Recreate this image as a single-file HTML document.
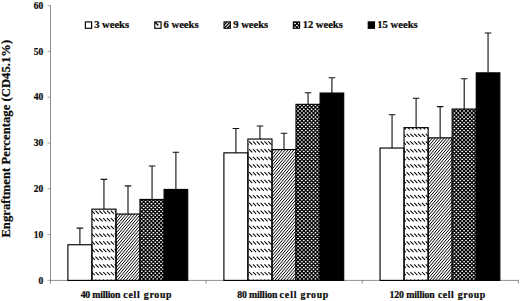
<!DOCTYPE html>
<html><head><meta charset="utf-8"><title>chart</title>
<style>
html,body{margin:0;padding:0;background:#fff;}
body{width:520px;height:301px;overflow:hidden;}
svg{display:block;}
text{font-family:"Liberation Serif",serif;font-weight:bold;fill:#0a0a0a;stroke:#0a0a0a;stroke-width:0.22px;}
</style></head><body>
<svg width="520" height="301" viewBox="0 0 520 301">
<rect width="520" height="301" fill="#fff"/>

<g stroke="#6a6a6a" stroke-width="0.75" fill="none">
<path d="M50.5,5.6 V280.4 H518.8"/>
<path d="M47.6,280.40 H50.5" stroke="#888"/>
<path d="M47.6,234.60 H50.5" stroke="#888"/>
<path d="M47.6,188.80 H50.5" stroke="#888"/>
<path d="M47.6,143.00 H50.5" stroke="#888"/>
<path d="M47.6,97.20 H50.5" stroke="#888"/>
<path d="M47.6,51.40 H50.5" stroke="#888"/>
<path d="M47.6,5.60 H50.5" stroke="#888"/>
<path d="M50.5,280.4 V283.6"/>
<path d="M206.1,280.4 V283.6"/>
<path d="M362.2,280.4 V283.6"/>
<path d="M518.4,280.4 V283.6"/>
</g>
<text x="43.2" y="283.65" font-size="9.5" text-anchor="end">0</text>
<text x="43.2" y="237.85" font-size="9.5" text-anchor="end">10</text>
<text x="43.2" y="192.05" font-size="9.5" text-anchor="end">20</text>
<text x="43.2" y="146.25" font-size="9.5" text-anchor="end">30</text>
<text x="43.2" y="100.45" font-size="9.5" text-anchor="end">40</text>
<text x="43.2" y="54.65" font-size="9.5" text-anchor="end">50</text>
<text x="43.2" y="8.85" font-size="9.5" text-anchor="end">60</text>
<defs><clipPath id="c1"><rect x="91.90" y="209.15" width="24.1" height="71.25"/></clipPath><clipPath id="c2"><rect x="116.00" y="214.05" width="23.999999999999993" height="66.35"/></clipPath><clipPath id="c3"><rect x="140.00" y="199.45" width="24.10000000000001" height="80.95"/></clipPath><clipPath id="c4"><rect x="247.90" y="139.05" width="24.1" height="141.35"/></clipPath><clipPath id="c5"><rect x="272.00" y="149.55" width="23.999999999999993" height="130.85"/></clipPath><clipPath id="c6"><rect x="296.00" y="104.35" width="24.10000000000001" height="176.05"/></clipPath><clipPath id="c7"><rect x="404.05" y="127.65" width="24.1" height="152.75"/></clipPath><clipPath id="c8"><rect x="428.15" y="137.85" width="23.999999999999993" height="142.55"/></clipPath><clipPath id="c9"><rect x="452.15" y="109.05" width="24.10000000000001" height="171.35"/></clipPath><clipPath id="c10"><rect x="154.80" y="21.9" width="6.25" height="6.4"/></clipPath><clipPath id="c11"><rect x="224.05" y="21.9" width="6.25" height="6.4"/></clipPath><clipPath id="c12"><rect x="293.35" y="21.9" width="6.25" height="6.4"/></clipPath></defs>
<path d="M79.90,244.75 V228.1 M76.60,228.1 H83.20" stroke="#111" stroke-width="1.1" fill="none"/>
<rect x="67.90" y="244.75" width="24.0" height="35.65" fill="#fff" stroke="#000" stroke-width="1.15"/>
<path d="M103.95,209.15 V179.4 M100.65,179.4 H107.25" stroke="#111" stroke-width="1.1" fill="none"/>
<g clip-path="url(#c1)"><path d="M10.98,202.88l78.5,78.5M14.82,202.88l78.5,78.5M18.66,202.88l78.5,78.5M22.50,202.88l78.5,78.5M26.34,202.88l78.5,78.5M30.18,202.88l78.5,78.5M34.02,202.88l78.5,78.5M37.86,202.88l78.5,78.5M41.70,202.88l78.5,78.5M45.54,202.88l78.5,78.5M49.38,202.88l78.5,78.5M53.22,202.88l78.5,78.5M57.06,202.88l78.5,78.5M60.90,202.88l78.5,78.5M64.74,202.88l78.5,78.5M68.58,202.88l78.5,78.5M72.42,202.88l78.5,78.5M76.26,202.88l78.5,78.5M80.10,202.88l78.5,78.5M83.94,202.88l78.5,78.5M87.78,202.88l78.5,78.5M91.62,202.88l78.5,78.5M95.46,202.88l78.5,78.5M99.30,202.88l78.5,78.5M103.14,202.88l78.5,78.5M106.98,202.88l78.5,78.5M110.82,202.88l78.5,78.5M114.66,202.88l78.5,78.5M118.50,202.88l78.5,78.5" stroke="#000" stroke-width="1.05" stroke-dasharray="4.562 6.299" fill="none"/></g>
<rect x="91.90" y="209.15" width="24.1" height="71.25" fill="none" stroke="#000" stroke-width="1.15"/>
<path d="M128.00,214.05 V185.9 M124.70,185.9 H131.30" stroke="#111" stroke-width="1.1" fill="none"/>
<g clip-path="url(#c2)"><path d="M55.00,281.40L112.43,213.05M57.92,281.40L115.35,213.05M60.84,281.40L118.27,213.05M63.76,281.40L121.19,213.05M66.68,281.40L124.11,213.05M69.60,281.40L127.03,213.05M72.52,281.40L129.95,213.05M75.44,281.40L132.87,213.05M78.36,281.40L135.79,213.05M81.28,281.40L138.71,213.05M84.20,281.40L141.63,213.05M87.12,281.40L144.55,213.05M90.04,281.40L147.47,213.05M92.96,281.40L150.39,213.05M95.88,281.40L153.31,213.05M98.80,281.40L156.23,213.05M101.72,281.40L159.15,213.05M104.64,281.40L162.07,213.05M107.56,281.40L164.99,213.05M110.48,281.40L167.91,213.05M113.40,281.40L170.83,213.05M116.32,281.40L173.75,213.05M119.24,281.40L176.67,213.05M122.16,281.40L179.59,213.05M125.08,281.40L182.51,213.05M128.00,281.40L185.43,213.05M130.92,281.40L188.35,213.05M133.84,281.40L191.27,213.05M136.76,281.40L194.19,213.05M139.68,281.40L197.11,213.05M142.60,281.40L200.03,213.05" stroke="#000" stroke-width="1.0" fill="none"/></g>
<rect x="116.00" y="214.05" width="23.999999999999993" height="66.35" fill="none" stroke="#000" stroke-width="1.15"/>
<path d="M152.05,199.45 V166.0 M148.75,166.0 H155.35" stroke="#111" stroke-width="1.1" fill="none"/>
<g clip-path="url(#c3)"><rect x="140.00" y="199.45" width="24.10" height="80.95" fill="#000"/><path d="M133.82,194.08h35.7M133.82,197.94h35.7M133.82,201.80h35.7M133.82,205.66h35.7M133.82,209.52h35.7M133.82,213.38h35.7M133.82,217.24h35.7M133.82,221.10h35.7M133.82,224.96h35.7M133.82,228.82h35.7M133.82,232.68h35.7M133.82,236.54h35.7M133.82,240.40h35.7M133.82,244.26h35.7M133.82,248.12h35.7M133.82,251.98h35.7M133.82,255.84h35.7M133.82,259.70h35.7M133.82,263.56h35.7M133.82,267.42h35.7M133.82,271.28h35.7M133.82,275.14h35.7M133.82,279.00h35.7M133.82,282.86h35.7M133.82,286.72h35.7M135.75,196.01h35.7M135.75,199.87h35.7M135.75,203.73h35.7M135.75,207.59h35.7M135.75,211.45h35.7M135.75,215.31h35.7M135.75,219.17h35.7M135.75,223.03h35.7M135.75,226.89h35.7M135.75,230.75h35.7M135.75,234.61h35.7M135.75,238.47h35.7M135.75,242.33h35.7M135.75,246.19h35.7M135.75,250.05h35.7M135.75,253.91h35.7M135.75,257.77h35.7M135.75,261.63h35.7M135.75,265.49h35.7M135.75,269.35h35.7M135.75,273.21h35.7M135.75,277.07h35.7M135.75,280.93h35.7M135.75,284.79h35.7M135.75,288.65h35.7" stroke="#fff" stroke-width="1.5" stroke-linecap="round" stroke-dasharray="0.400 3.460" fill="none"/></g>
<rect x="140.00" y="199.45" width="24.10000000000001" height="80.95" fill="none" stroke="#000" stroke-width="1.15"/>
<path d="M175.90,189.45 V152.2 M172.60,152.2 H179.20" stroke="#111" stroke-width="1.1" fill="none"/>
<rect x="164.10" y="189.45" width="23.599999999999994" height="90.95" fill="#000" stroke="#000" stroke-width="1.15"/>
<path d="M235.90,152.85 V128.5 M232.60,128.5 H239.20" stroke="#111" stroke-width="1.1" fill="none"/>
<rect x="223.90" y="152.85" width="24.0" height="127.55" fill="#fff" stroke="#000" stroke-width="1.15"/>
<path d="M259.95,139.05 V126.0 M256.65,126.0 H263.25" stroke="#111" stroke-width="1.1" fill="none"/>
<g clip-path="url(#c4)"><path d="M99.30,133.76l147.6,147.6M103.14,133.76l147.6,147.6M106.98,133.76l147.6,147.6M110.82,133.76l147.6,147.6M114.66,133.76l147.6,147.6M118.50,133.76l147.6,147.6M122.34,133.76l147.6,147.6M126.18,133.76l147.6,147.6M130.02,133.76l147.6,147.6M133.86,133.76l147.6,147.6M137.70,133.76l147.6,147.6M141.54,133.76l147.6,147.6M145.38,133.76l147.6,147.6M149.22,133.76l147.6,147.6M153.06,133.76l147.6,147.6M156.90,133.76l147.6,147.6M160.74,133.76l147.6,147.6M164.58,133.76l147.6,147.6M168.42,133.76l147.6,147.6M172.26,133.76l147.6,147.6M176.10,133.76l147.6,147.6M179.94,133.76l147.6,147.6M183.78,133.76l147.6,147.6M187.62,133.76l147.6,147.6M191.46,133.76l147.6,147.6M195.30,133.76l147.6,147.6M199.14,133.76l147.6,147.6M202.98,133.76l147.6,147.6M206.82,133.76l147.6,147.6M210.66,133.76l147.6,147.6M214.50,133.76l147.6,147.6M218.34,133.76l147.6,147.6M222.18,133.76l147.6,147.6M226.02,133.76l147.6,147.6M229.86,133.76l147.6,147.6M233.70,133.76l147.6,147.6M237.54,133.76l147.6,147.6M241.38,133.76l147.6,147.6M245.22,133.76l147.6,147.6M249.06,133.76l147.6,147.6M252.90,133.76l147.6,147.6M256.74,133.76l147.6,147.6M260.58,133.76l147.6,147.6M264.42,133.76l147.6,147.6M268.26,133.76l147.6,147.6M272.10,133.76l147.6,147.6" stroke="#000" stroke-width="1.05" stroke-dasharray="4.562 6.299" fill="none"/></g>
<rect x="247.90" y="139.05" width="24.1" height="141.35" fill="none" stroke="#000" stroke-width="1.15"/>
<path d="M284.00,149.55 V133.3 M280.70,133.3 H287.30" stroke="#111" stroke-width="1.1" fill="none"/>
<g clip-path="url(#c5)"><path d="M157.20,281.40L268.84,148.55M160.12,281.40L271.76,148.55M163.04,281.40L274.68,148.55M165.96,281.40L277.60,148.55M168.88,281.40L280.52,148.55M171.80,281.40L283.44,148.55M174.72,281.40L286.36,148.55M177.64,281.40L289.28,148.55M180.56,281.40L292.20,148.55M183.48,281.40L295.12,148.55M186.40,281.40L298.04,148.55M189.32,281.40L300.96,148.55M192.24,281.40L303.88,148.55M195.16,281.40L306.80,148.55M198.08,281.40L309.72,148.55M201.00,281.40L312.64,148.55M203.92,281.40L315.56,148.55M206.84,281.40L318.48,148.55M209.76,281.40L321.40,148.55M212.68,281.40L324.32,148.55M215.60,281.40L327.24,148.55M218.52,281.40L330.16,148.55M221.44,281.40L333.08,148.55M224.36,281.40L336.00,148.55M227.28,281.40L338.92,148.55M230.20,281.40L341.84,148.55M233.12,281.40L344.76,148.55M236.04,281.40L347.68,148.55M238.96,281.40L350.60,148.55M241.88,281.40L353.52,148.55M244.80,281.40L356.44,148.55M247.72,281.40L359.36,148.55M250.64,281.40L362.28,148.55M253.56,281.40L365.20,148.55M256.48,281.40L368.12,148.55M259.40,281.40L371.04,148.55M262.32,281.40L373.96,148.55M265.24,281.40L376.88,148.55M268.16,281.40L379.80,148.55M271.08,281.40L382.72,148.55M274.00,281.40L385.64,148.55M276.92,281.40L388.56,148.55M279.84,281.40L391.48,148.55M282.76,281.40L394.40,148.55M285.68,281.40L397.32,148.55M288.60,281.40L400.24,148.55M291.52,281.40L403.16,148.55M294.44,281.40L406.08,148.55M297.36,281.40L409.00,148.55M300.28,281.40L411.92,148.55" stroke="#000" stroke-width="1.0" fill="none"/></g>
<rect x="272.00" y="149.55" width="23.999999999999993" height="130.85" fill="none" stroke="#000" stroke-width="1.15"/>
<path d="M308.05,104.35 V92.8 M304.75,92.8 H311.35" stroke="#111" stroke-width="1.1" fill="none"/>
<g clip-path="url(#c6)"><rect x="296.00" y="104.35" width="24.10" height="176.05" fill="#000"/><path d="M288.22,97.58h35.7M288.22,101.44h35.7M288.22,105.30h35.7M288.22,109.16h35.7M288.22,113.02h35.7M288.22,116.88h35.7M288.22,120.74h35.7M288.22,124.60h35.7M288.22,128.46h35.7M288.22,132.32h35.7M288.22,136.18h35.7M288.22,140.04h35.7M288.22,143.90h35.7M288.22,147.76h35.7M288.22,151.62h35.7M288.22,155.48h35.7M288.22,159.34h35.7M288.22,163.20h35.7M288.22,167.06h35.7M288.22,170.92h35.7M288.22,174.78h35.7M288.22,178.64h35.7M288.22,182.50h35.7M288.22,186.36h35.7M288.22,190.22h35.7M288.22,194.08h35.7M288.22,197.94h35.7M288.22,201.80h35.7M288.22,205.66h35.7M288.22,209.52h35.7M288.22,213.38h35.7M288.22,217.24h35.7M288.22,221.10h35.7M288.22,224.96h35.7M288.22,228.82h35.7M288.22,232.68h35.7M288.22,236.54h35.7M288.22,240.40h35.7M288.22,244.26h35.7M288.22,248.12h35.7M288.22,251.98h35.7M288.22,255.84h35.7M288.22,259.70h35.7M288.22,263.56h35.7M288.22,267.42h35.7M288.22,271.28h35.7M288.22,275.14h35.7M288.22,279.00h35.7M288.22,282.86h35.7M288.22,286.72h35.7M290.15,99.51h35.7M290.15,103.37h35.7M290.15,107.23h35.7M290.15,111.09h35.7M290.15,114.95h35.7M290.15,118.81h35.7M290.15,122.67h35.7M290.15,126.53h35.7M290.15,130.39h35.7M290.15,134.25h35.7M290.15,138.11h35.7M290.15,141.97h35.7M290.15,145.83h35.7M290.15,149.69h35.7M290.15,153.55h35.7M290.15,157.41h35.7M290.15,161.27h35.7M290.15,165.13h35.7M290.15,168.99h35.7M290.15,172.85h35.7M290.15,176.71h35.7M290.15,180.57h35.7M290.15,184.43h35.7M290.15,188.29h35.7M290.15,192.15h35.7M290.15,196.01h35.7M290.15,199.87h35.7M290.15,203.73h35.7M290.15,207.59h35.7M290.15,211.45h35.7M290.15,215.31h35.7M290.15,219.17h35.7M290.15,223.03h35.7M290.15,226.89h35.7M290.15,230.75h35.7M290.15,234.61h35.7M290.15,238.47h35.7M290.15,242.33h35.7M290.15,246.19h35.7M290.15,250.05h35.7M290.15,253.91h35.7M290.15,257.77h35.7M290.15,261.63h35.7M290.15,265.49h35.7M290.15,269.35h35.7M290.15,273.21h35.7M290.15,277.07h35.7M290.15,280.93h35.7M290.15,284.79h35.7M290.15,288.65h35.7" stroke="#fff" stroke-width="1.5" stroke-linecap="round" stroke-dasharray="0.400 3.460" fill="none"/></g>
<rect x="296.00" y="104.35" width="24.10000000000001" height="176.05" fill="none" stroke="#000" stroke-width="1.15"/>
<path d="M331.90,93.05 V77.8 M328.60,77.8 H335.20" stroke="#111" stroke-width="1.1" fill="none"/>
<rect x="320.10" y="93.05" width="23.599999999999994" height="187.35" fill="#000" stroke="#000" stroke-width="1.15"/>
<path d="M392.05,148.05 V114.7 M388.75,114.7 H395.35" stroke="#111" stroke-width="1.1" fill="none"/>
<rect x="380.05" y="148.05" width="24.0" height="132.35" fill="#fff" stroke="#000" stroke-width="1.15"/>
<path d="M416.10,127.65 V98.2 M412.80,98.2 H419.40" stroke="#111" stroke-width="1.1" fill="none"/>
<g clip-path="url(#c7)"><path d="M245.22,126.08l155.3,155.3M249.06,126.08l155.3,155.3M252.90,126.08l155.3,155.3M256.74,126.08l155.3,155.3M260.58,126.08l155.3,155.3M264.42,126.08l155.3,155.3M268.26,126.08l155.3,155.3M272.10,126.08l155.3,155.3M275.94,126.08l155.3,155.3M279.78,126.08l155.3,155.3M283.62,126.08l155.3,155.3M287.46,126.08l155.3,155.3M291.30,126.08l155.3,155.3M295.14,126.08l155.3,155.3M298.98,126.08l155.3,155.3M302.82,126.08l155.3,155.3M306.66,126.08l155.3,155.3M310.50,126.08l155.3,155.3M314.34,126.08l155.3,155.3M318.18,126.08l155.3,155.3M322.02,126.08l155.3,155.3M325.86,126.08l155.3,155.3M329.70,126.08l155.3,155.3M333.54,126.08l155.3,155.3M337.38,126.08l155.3,155.3M341.22,126.08l155.3,155.3M345.06,126.08l155.3,155.3M348.90,126.08l155.3,155.3M352.74,126.08l155.3,155.3M356.58,126.08l155.3,155.3M360.42,126.08l155.3,155.3M364.26,126.08l155.3,155.3M368.10,126.08l155.3,155.3M371.94,126.08l155.3,155.3M375.78,126.08l155.3,155.3M379.62,126.08l155.3,155.3M383.46,126.08l155.3,155.3M387.30,126.08l155.3,155.3M391.14,126.08l155.3,155.3M394.98,126.08l155.3,155.3M398.82,126.08l155.3,155.3M402.66,126.08l155.3,155.3M406.50,126.08l155.3,155.3M410.34,126.08l155.3,155.3M414.18,126.08l155.3,155.3M418.02,126.08l155.3,155.3M421.86,126.08l155.3,155.3M425.70,126.08l155.3,155.3M429.54,126.08l155.3,155.3" stroke="#000" stroke-width="1.05" stroke-dasharray="4.562 6.299" fill="none"/></g>
<rect x="404.05" y="127.65" width="24.1" height="152.75" fill="none" stroke="#000" stroke-width="1.15"/>
<path d="M440.15,137.85 V106.6 M436.85,106.6 H443.45" stroke="#111" stroke-width="1.1" fill="none"/>
<g clip-path="url(#c8)"><path d="M303.20,281.40L424.67,136.85M306.12,281.40L427.59,136.85M309.04,281.40L430.51,136.85M311.96,281.40L433.43,136.85M314.88,281.40L436.35,136.85M317.80,281.40L439.27,136.85M320.72,281.40L442.19,136.85M323.64,281.40L445.11,136.85M326.56,281.40L448.03,136.85M329.48,281.40L450.95,136.85M332.40,281.40L453.87,136.85M335.32,281.40L456.79,136.85M338.24,281.40L459.71,136.85M341.16,281.40L462.63,136.85M344.08,281.40L465.55,136.85M347.00,281.40L468.47,136.85M349.92,281.40L471.39,136.85M352.84,281.40L474.31,136.85M355.76,281.40L477.23,136.85M358.68,281.40L480.15,136.85M361.60,281.40L483.07,136.85M364.52,281.40L485.99,136.85M367.44,281.40L488.91,136.85M370.36,281.40L491.83,136.85M373.28,281.40L494.75,136.85M376.20,281.40L497.67,136.85M379.12,281.40L500.59,136.85M382.04,281.40L503.51,136.85M384.96,281.40L506.43,136.85M387.88,281.40L509.35,136.85M390.80,281.40L512.27,136.85M393.72,281.40L515.19,136.85M396.64,281.40L518.11,136.85M399.56,281.40L521.03,136.85M402.48,281.40L523.95,136.85M405.40,281.40L526.87,136.85M408.32,281.40L529.79,136.85M411.24,281.40L532.71,136.85M414.16,281.40L535.63,136.85M417.08,281.40L538.55,136.85M420.00,281.40L541.47,136.85M422.92,281.40L544.39,136.85M425.84,281.40L547.31,136.85M428.76,281.40L550.23,136.85M431.68,281.40L553.15,136.85M434.60,281.40L556.07,136.85M437.52,281.40L558.99,136.85M440.44,281.40L561.91,136.85M443.36,281.40L564.83,136.85M446.28,281.40L567.75,136.85M449.20,281.40L570.67,136.85M452.12,281.40L573.59,136.85M455.04,281.40L576.51,136.85" stroke="#000" stroke-width="1.0" fill="none"/></g>
<rect x="428.15" y="137.85" width="23.999999999999993" height="142.55" fill="none" stroke="#000" stroke-width="1.15"/>
<path d="M464.20,109.05 V78.8 M460.90,78.8 H467.50" stroke="#111" stroke-width="1.1" fill="none"/>
<g clip-path="url(#c9)"><rect x="452.15" y="109.05" width="24.10" height="171.35" fill="#000"/><path d="M446.48,101.44h35.7M446.48,105.30h35.7M446.48,109.16h35.7M446.48,113.02h35.7M446.48,116.88h35.7M446.48,120.74h35.7M446.48,124.60h35.7M446.48,128.46h35.7M446.48,132.32h35.7M446.48,136.18h35.7M446.48,140.04h35.7M446.48,143.90h35.7M446.48,147.76h35.7M446.48,151.62h35.7M446.48,155.48h35.7M446.48,159.34h35.7M446.48,163.20h35.7M446.48,167.06h35.7M446.48,170.92h35.7M446.48,174.78h35.7M446.48,178.64h35.7M446.48,182.50h35.7M446.48,186.36h35.7M446.48,190.22h35.7M446.48,194.08h35.7M446.48,197.94h35.7M446.48,201.80h35.7M446.48,205.66h35.7M446.48,209.52h35.7M446.48,213.38h35.7M446.48,217.24h35.7M446.48,221.10h35.7M446.48,224.96h35.7M446.48,228.82h35.7M446.48,232.68h35.7M446.48,236.54h35.7M446.48,240.40h35.7M446.48,244.26h35.7M446.48,248.12h35.7M446.48,251.98h35.7M446.48,255.84h35.7M446.48,259.70h35.7M446.48,263.56h35.7M446.48,267.42h35.7M446.48,271.28h35.7M446.48,275.14h35.7M446.48,279.00h35.7M446.48,282.86h35.7M446.48,286.72h35.7M448.41,103.37h35.7M448.41,107.23h35.7M448.41,111.09h35.7M448.41,114.95h35.7M448.41,118.81h35.7M448.41,122.67h35.7M448.41,126.53h35.7M448.41,130.39h35.7M448.41,134.25h35.7M448.41,138.11h35.7M448.41,141.97h35.7M448.41,145.83h35.7M448.41,149.69h35.7M448.41,153.55h35.7M448.41,157.41h35.7M448.41,161.27h35.7M448.41,165.13h35.7M448.41,168.99h35.7M448.41,172.85h35.7M448.41,176.71h35.7M448.41,180.57h35.7M448.41,184.43h35.7M448.41,188.29h35.7M448.41,192.15h35.7M448.41,196.01h35.7M448.41,199.87h35.7M448.41,203.73h35.7M448.41,207.59h35.7M448.41,211.45h35.7M448.41,215.31h35.7M448.41,219.17h35.7M448.41,223.03h35.7M448.41,226.89h35.7M448.41,230.75h35.7M448.41,234.61h35.7M448.41,238.47h35.7M448.41,242.33h35.7M448.41,246.19h35.7M448.41,250.05h35.7M448.41,253.91h35.7M448.41,257.77h35.7M448.41,261.63h35.7M448.41,265.49h35.7M448.41,269.35h35.7M448.41,273.21h35.7M448.41,277.07h35.7M448.41,280.93h35.7M448.41,284.79h35.7M448.41,288.65h35.7" stroke="#fff" stroke-width="1.5" stroke-linecap="round" stroke-dasharray="0.400 3.460" fill="none"/></g>
<rect x="452.15" y="109.05" width="24.10000000000001" height="171.35" fill="none" stroke="#000" stroke-width="1.15"/>
<path d="M488.05,72.85 V33.0 M484.75,33.0 H491.35" stroke="#111" stroke-width="1.1" fill="none"/>
<rect x="476.25" y="72.85" width="23.599999999999994" height="207.55" fill="#000" stroke="#000" stroke-width="1.15"/>
<rect x="85.35" y="21.9" width="6.25" height="6.4" fill="#fff" stroke="#000" stroke-width="1.15"/>
<text x="94.2" y="28.4" font-size="10.6" textLength="34.90" lengthAdjust="spacing">3 weeks</text>
<g clip-path="url(#c10)"><path d="M155.10,22.20l3.3,3.3" stroke="#000" stroke-width="1.3"/></g>
<rect x="154.80" y="21.9" width="6.25" height="6.4" fill="none" stroke="#000" stroke-width="1.15"/>
<text x="163.6" y="28.4" font-size="10.6" textLength="34.90" lengthAdjust="spacing">6 weeks</text>
<g clip-path="url(#c11)"><path d="M224.05,28.30L230.30,21.90M220.85,28.30L227.10,21.90M227.25,28.30L233.50,21.90" stroke="#000" stroke-width="1.3"/></g>
<rect x="224.05" y="21.9" width="6.25" height="6.4" fill="none" stroke="#000" stroke-width="1.15"/>
<text x="233.2" y="28.4" font-size="10.6" textLength="35.00" lengthAdjust="spacing">9 weeks</text>
<g clip-path="url(#c12)"><rect x="293.35" y="21.90" width="6.25" height="6.40" fill="#000"/><path d="M287.13,15.78h17.8M287.13,19.64h17.8M287.13,23.50h17.8M287.13,27.36h17.8M287.13,31.22h17.8M287.13,35.08h17.8M289.06,17.71h17.8M289.06,21.57h17.8M289.06,25.43h17.8M289.06,29.29h17.8M289.06,33.15h17.8M289.06,37.01h17.8" stroke="#fff" stroke-width="1.5" stroke-linecap="round" stroke-dasharray="0.400 3.460" fill="none"/></g>
<rect x="293.35" y="21.9" width="6.25" height="6.4" fill="none" stroke="#000" stroke-width="1.15"/>
<text x="302.7" y="28.4" font-size="10.6" textLength="40.10" lengthAdjust="spacing">12 weeks</text>
<rect x="368.25" y="21.9" width="6.25" height="6.4" fill="#000" stroke="#000" stroke-width="1.15"/>
<text x="377.2" y="28.4" font-size="10.6" textLength="40.50" lengthAdjust="spacing">15 weeks</text>
<text x="80.65" y="297.7" font-size="9.8" textLength="39.85" lengthAdjust="spacing">40 million</text>
<text x="123.30" y="297.7" font-size="9.8" textLength="16.40" lengthAdjust="spacing">cell</text>
<text x="143.80" y="297.7" font-size="9.8" textLength="27.70" lengthAdjust="spacing">group</text>
<text x="237.30" y="297.7" font-size="9.8" textLength="40.10" lengthAdjust="spacing">80 million</text>
<text x="279.60" y="297.7" font-size="9.8" textLength="16.90" lengthAdjust="spacing">cell</text>
<text x="300.60" y="297.7" font-size="9.8" textLength="27.70" lengthAdjust="spacing">group</text>
<text x="389.60" y="297.7" font-size="9.8" textLength="45.20" lengthAdjust="spacing">120 million</text>
<text x="437.90" y="297.7" font-size="9.8" textLength="15.80" lengthAdjust="spacing">cell</text>
<text x="457.80" y="297.7" font-size="9.8" textLength="27.40" lengthAdjust="spacing">group</text>
<text transform="translate(10.3,237.6) rotate(-90)" font-size="12.6" textLength="197.8" lengthAdjust="spacing">Engraftment Percentage (CD45.1%)</text>
</svg></body></html>
